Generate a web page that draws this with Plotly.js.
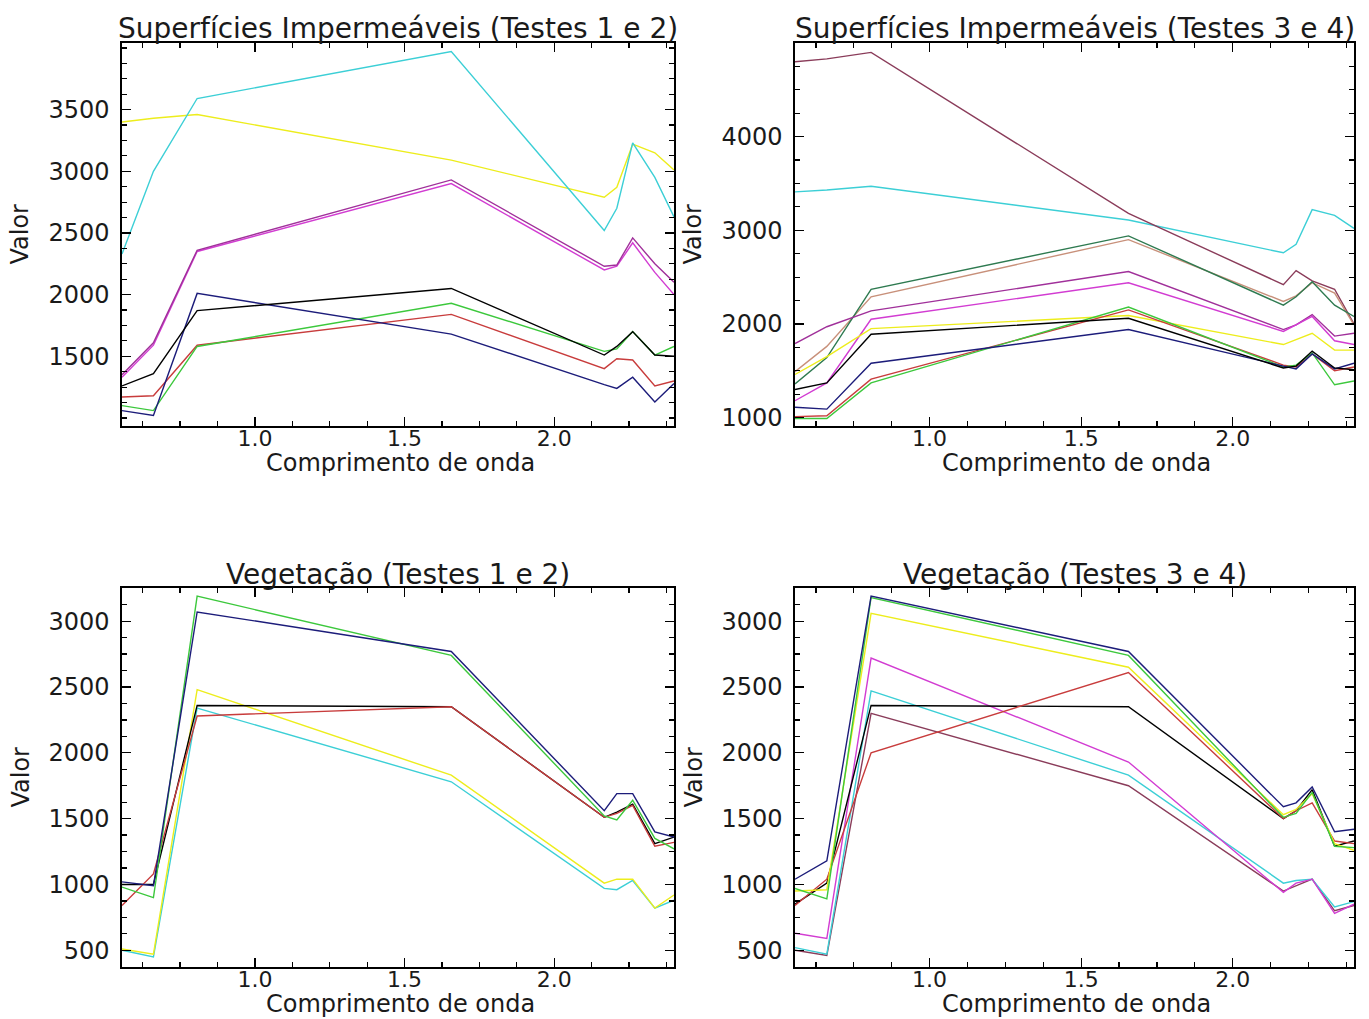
<!DOCTYPE html>
<html>
<head>
<meta charset="utf-8">
<script src="https://cdn.plot.ly/plotly-3.0.1.min.js"></script>
<style>html,body{margin:0;padding:0;background:#fff;}#chart{width:1369px;height:1019px;}</style>
</head>
<body>
<div id="chart"></div>
<script>
// ASTER band centres (µm)
var wavelength = [0.556, 0.661, 0.807, 1.656, 2.167, 2.209, 2.262, 2.336, 2.400];

// Superfícies Impermeáveis (Testes 1 e 2)
var imp12Cyan    = [2330, 3000, 3590, 3970, 2520, 2700, 3230, 2950, 2630];
var imp12Yellow  = [3400, 3430, 3460, 3090, 2790, 2870, 3220, 3150, 3010];
var imp12Purple  = [1350, 1610, 2360, 2930, 2230, 2240, 2460, 2250, 2100];
var imp12Magenta = [1330, 1590, 2350, 2900, 2200, 2230, 2420, 2180, 2000];
var imp12Black   = [1260, 1360, 1870, 2050, 1510, 1580, 1700, 1510, 1500];
var imp12Navy    = [1060, 1020, 2010, 1680, 1270, 1240, 1330, 1130, 1280];
var imp12Green   = [1100, 1060, 1580, 1930, 1540, 1560, 1700, 1510, 1580];
var imp12Red     = [1170, 1180, 1590, 1840, 1400, 1480, 1470, 1260, 1300];

// Superfícies Impermeáveis (Testes 3 e 4)
var imp34Brown    = [4800, 4830, 4900, 3180, 2420, 2570, 2460, 2370, 2000];
var imp34Cyan     = [3410, 3430, 3470, 3110, 2760, 2850, 3220, 3160, 3020];
var imp34SeaGreen = [1360, 1640, 2370, 2940, 2200, 2290, 2450, 2200, 2080];
var imp34Tan      = [1490, 1760, 2290, 2900, 2240, 2300, 2440, 2330, 1990];
var imp34Purple   = [1790, 1970, 2140, 2560, 1940, 1990, 2100, 1870, 1900];
var imp34Magenta  = [1180, 1370, 2050, 2440, 1920, 1990, 2080, 1820, 1780];
var imp34Yellow   = [1460, 1650, 1950, 2090, 1780, 1830, 1900, 1720, 1720];
var imp34Black    = [1300, 1370, 1890, 2060, 1530, 1550, 1710, 1530, 1510];
var imp34Navy     = [1110, 1090, 1580, 1940, 1550, 1520, 1680, 1520, 1580];
var imp34Green    = [990, 990, 1370, 2180, 1540, 1560, 1690, 1350, 1390];
var imp34Red      = [1010, 1020, 1410, 2150, 1560, 1540, 1680, 1500, 1540];

// Vegetação (Testes 1 e 2)
var veg12Green  = [980, 900, 3190, 2740, 1520, 1490, 1640, 1350, 1270];
var veg12Navy   = [1020, 990, 3070, 2770, 1560, 1690, 1690, 1400, 1360];
var veg12Black  = [1000, 1000, 2360, 2350, 1510, 1550, 1610, 1310, 1360];
var veg12Red    = [840, 1080, 2280, 2350, 1510, 1540, 1600, 1290, 1320];
var veg12Yellow = [510, 470, 2480, 1830, 1010, 1040, 1040, 820, 920];
var veg12Cyan   = [500, 450, 2340, 1780, 970, 960, 1030, 820, 880];

// Vegetação (Testes 3 e 4)
var veg34Navy    = [1040, 1180, 3190, 2770, 1590, 1620, 1740, 1400, 1420];
var veg34Green   = [970, 890, 3180, 2740, 1510, 1540, 1700, 1290, 1280];
var veg34Yellow  = [950, 960, 3060, 2650, 1530, 1570, 1690, 1310, 1260];
var veg34Red     = [840, 1040, 2000, 2610, 1500, 1560, 1620, 1330, 1310];
var veg34Black   = [850, 1010, 2360, 2350, 1500, 1560, 1720, 1290, 1330];
var veg34Magenta = [630, 590, 2720, 1930, 940, 1010, 1040, 780, 850];
var veg34Cyan    = [520, 470, 2470, 1830, 1010, 1030, 1040, 830, 870];
var veg34Brown   = [500, 460, 2300, 1750, 950, 990, 1040, 800, 840];

// Tick values
var xTicks = [1.0, 1.5, 2.0];
var imp12YTicks = [1500, 2000, 2500, 3000, 3500];
var imp34YTicks = [1000, 2000, 3000, 4000];
var vegYTicks = [500, 1000, 1500, 2000, 2500, 3000];

// Titles
var panelTitles = ["Superfícies Impermeáveis (Testes 1 e 2)", "Superfícies Impermeáveis (Testes 3 e 4)",
                   "Vegetação (Testes 1 e 2)", "Vegetação (Testes 3 e 4)"];
var xTitle = "Comprimento de onda";
var yTitle = "Valor";

var C = {
  cyan: "#3ccfd6", yellow: "#eded1c", purple: "#a0309a", magenta: "#d23cd2", black: "#000000",
  navy: "#1c1c7a", green: "#3cc83c", red: "#c83c3c", brown: "#8a3c5a", seagreen: "#2e7a50", tan: "#c8907a"
};

function tr(y, color, ax) {
  return {x: wavelength, y: y, type: "scatter", mode: "lines", xaxis: "x" + ax, yaxis: "y" + ax,
          line: {color: color, width: 1.4}, hoverinfo: "skip", showlegend: false};
}

var data = [
  tr(imp12Yellow, C.yellow, ""), tr(imp12Cyan, C.cyan, ""), tr(imp12Magenta, C.magenta, ""), tr(imp12Purple, C.purple, ""),
  tr(imp12Red, C.red, ""), tr(imp12Green, C.green, ""), tr(imp12Navy, C.navy, ""), tr(imp12Black, C.black, ""),

  tr(imp34Cyan, C.cyan, "2"), tr(imp34Brown, C.brown, "2"), tr(imp34Tan, C.tan, "2"), tr(imp34SeaGreen, C.seagreen, "2"),
  tr(imp34Purple, C.purple, "2"), tr(imp34Magenta, C.magenta, "2"), tr(imp34Yellow, C.yellow, "2"),
  tr(imp34Red, C.red, "2"), tr(imp34Green, C.green, "2"), tr(imp34Navy, C.navy, "2"), tr(imp34Black, C.black, "2"),

  tr(veg12Cyan, C.cyan, "3"), tr(veg12Yellow, C.yellow, "3"), tr(veg12Black, C.black, "3"), tr(veg12Red, C.red, "3"),
  tr(veg12Green, C.green, "3"), tr(veg12Navy, C.navy, "3"),

  tr(veg34Brown, C.brown, "4"), tr(veg34Cyan, C.cyan, "4"), tr(veg34Magenta, C.magenta, "4"), tr(veg34Black, C.black, "4"),
  tr(veg34Red, C.red, "4"), tr(veg34Yellow, C.yellow, "4"), tr(veg34Green, C.green, "4"), tr(veg34Navy, C.navy, "4")
];

var W = 1369, H = 1019;
var FONT = "DejaVu Sans";
var yTickFont = {family: FONT, size: 24, color: "#1a1a1a"};
var xTickFont = {family: FONT, size: 22, color: "#1a1a1a"};

function xax(left, right, anchor) {
  return {domain: [left / W, right / W], anchor: anchor, range: [wavelength[0], wavelength[wavelength.length - 1]],
          tickmode: "array", tickvals: xTicks, ticktext: xTicks.map(function (v) { return v.toFixed(1); }),
          ticks: "inside", ticklen: 9, tickwidth: 1.2, tickcolor: "#000",
          minor: {tickmode: "linear", tick0: 0, dtick: 0.125, ticks: "inside", ticklen: 5, tickwidth: 1.2, tickcolor: "#000"},
          showline: true, linecolor: "#000", linewidth: 1.6, mirror: "ticks",
          showgrid: false, zeroline: false, tickfont: xTickFont, ticklabelstandoff: -8};
}
function yax(top, bottom, anchor, range, ticks, minorStep) {
  return {domain: [1 - bottom / H, 1 - top / H], anchor: anchor, range: range,
          tickmode: "array", tickvals: ticks,
          ticks: "inside", ticklen: 9, tickwidth: 1.2, tickcolor: "#000",
          minor: {tickmode: "linear", tick0: 0, dtick: minorStep, ticks: "inside", ticklen: 5, tickwidth: 1.2, tickcolor: "#000"},
          showline: true, linecolor: "#000", linewidth: 1.6, mirror: "ticks",
          showgrid: false, zeroline: false, tickfont: yTickFont, ticklabelstandoff: 6};
}

var L1 = 122, R1 = 674, L2 = 795, R2 = 1354;
var T1 = 43, B1 = 426, T2 = 588, B2 = 967;

var layout = {
  width: W, height: H, margin: {l: 0, r: 0, t: 0, b: 0}, paper_bgcolor: "#fff", plot_bgcolor: "#fff",
  showlegend: false,
  xaxis: xax(L1, R1, "y"), yaxis: yax(T1, B1, "x", [935, 4040], imp12YTicks, 125),
  xaxis2: xax(L2, R2, "y2"), yaxis2: yax(T1, B1, "x2", [910, 5000], imp34YTicks, 250),
  xaxis3: xax(L1, R1, "y3"), yaxis3: yax(T2, B2, "x3", [373, 3252], vegYTicks, 125),
  xaxis4: xax(L2, R2, "y4"), yaxis4: yax(T2, B2, "x4", [373, 3252], vegYTicks, 125),
  annotations: []
};

var titleFont = {family: FONT, size: 28, color: "#1a1a1a"};
var axisTitleFont = {family: FONT, size: 24, color: "#1a1a1a"};
var panels = [[L1, R1, T1, B1], [L2, R2, T1, B1], [L1, R1, T2, B2], [L2, R2, T2, B2]];
panels.forEach(function (p, i) {
  var cx = (p[0] + p[1]) / 2 / W;
  layout.annotations.push({text: panelTitles[i], xref: "paper", yref: "paper", x: cx, y: 1 - (p[2] - 14) / H,
                           xanchor: "center", yanchor: "middle", showarrow: false, font: titleFont});
  layout.annotations.push({text: xTitle, xref: "paper", yref: "paper", x: cx + 2 / W, y: 1 - (p[3] + 37) / H,
                           xanchor: "center", yanchor: "middle", showarrow: false, font: axisTitleFont});
  layout.annotations.push({text: yTitle, xref: "paper", yref: "paper", x: (p[0] - 102) / W, y: 1 - ((p[2] + p[3]) / 2) / H,
                           xanchor: "center", yanchor: "middle", textangle: -90, showarrow: false, font: axisTitleFont});
});

Plotly.newPlot("chart", data, layout, {staticPlot: true});
</script>
</body>
</html>
